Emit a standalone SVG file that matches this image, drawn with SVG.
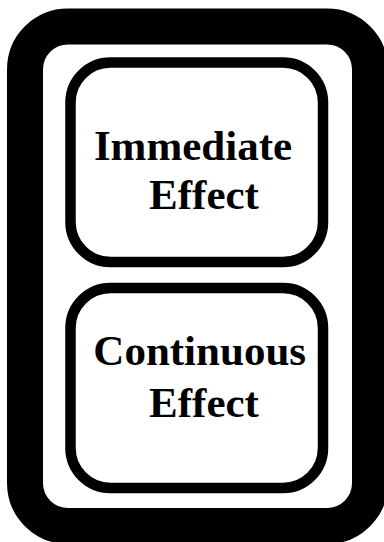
<svg xmlns="http://www.w3.org/2000/svg" width="384" height="542" viewBox="0 0 384 542">
<style>
.frame{fill:none;stroke:#000;stroke-width:36}
.box{fill:#fff;stroke:#000;stroke-width:10.5}
.lbl{font-family:"Liberation Serif","Times New Roman",serif;font-weight:bold;font-size:43px;fill:#000;text-anchor:middle}
</style>
<rect width="384" height="542" fill="#fff"/>
<g id="frame"><rect class="frame" x="25" y="26.5" width="345" height="499.5" rx="43" ry="43"/></g>
<g id="immediate">
<rect class="box" x="70.5" y="62.5" width="252.5" height="199.5" rx="40" ry="40"/>
<text class="lbl" x="193" y="159.5">Immediate</text>
<text class="lbl" x="204" y="208.5">Effect</text>
</g>
<g id="continuous">
<rect class="box" x="70.5" y="288" width="252.5" height="200" rx="40" ry="40"/>
<text class="lbl" x="199.7" y="365">Continuous</text>
<text class="lbl" x="204" y="417">Effect</text>
</g>
<g id="connectors"/>
</svg>
